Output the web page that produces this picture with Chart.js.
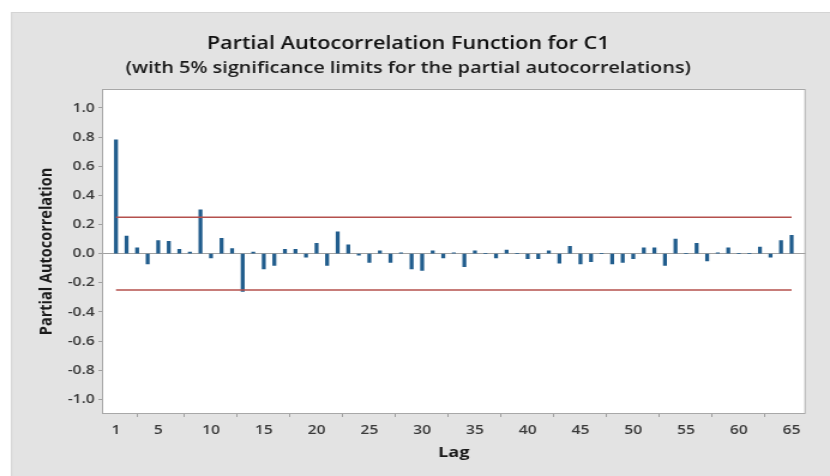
<!DOCTYPE html>
<html>
<head>
<meta charset="utf-8">
<script src="https://cdn.jsdelivr.net/npm/chart.js@4.4.1/dist/chart.umd.min.js"></script>
<style>
  html, body { margin: 0; padding: 0; background: #ffffff; overflow: hidden; }
  #wrap { width: 830px; height: 476px; position: relative; overflow: hidden; }
  /* the reference picture is horizontally stretched; reproduce that stretch */
  #c { position: absolute; left: 0; top: 0; transform-origin: 0 0; transform: scaleX(1.19942); }
</style>
</head>
<body>
<div id="wrap"><canvas id="c" width="692" height="476"></canvas></div>
<script>
// ---- Data ----
const lags = [1,2,3,4,5,6,7,8,9,10,11,12,13,14,15,16,17,18,19,20,21,22,23,24,25,26,27,28,29,30,31,32,33,34,35,36,37,38,39,40,41,42,43,44,45,46,47,48,49,50,51,52,53,54,55,56,57,58,59,60,61,62,63,64,65];
const pacf = [0.78,0.12,0.04,-0.07,0.09,0.085,0.03,0.01,0.30,-0.03,
              0.105,0.035,-0.26,0.01,-0.105,-0.08,0.03,0.03,-0.025,0.07,
              -0.08,0.15,0.06,-0.01,-0.06,0.02,-0.06,0.005,-0.105,-0.115,
              0.02,-0.03,0.005,-0.09,0.02,0.0,-0.03,0.025,0.0,-0.035,
              -0.035,0.02,-0.065,0.05,-0.07,-0.055,0.0,-0.07,-0.06,-0.035,
              0.04,0.04,-0.08,0.10,0.0,0.07,-0.05,0.005,0.04,0.0,
              0.0,0.045,-0.025,0.09,0.125];
const limitLags = [1, 65];
const upperLimit = [0.25, 0.25];
const lowerLimit = [-0.25, -0.25];
const xTickValues = [1,5,10,15,20,25,30,35,40,45,50,55,60,65];
const yTickValues = [-1.0,-0.8,-0.6,-0.4,-0.2,0.0,0.2,0.4,0.6,0.8,1.0];
const titleText = 'Partial Autocorrelation Function for C1';
const subtitleText = '(with 5% significance limits for the partial autocorrelations)';
const yTitle = 'Partial Autocorrelation';
const xTitle = 'Lag';

const FONT = "'Open Sans', 'Noto Sans', sans-serif";

const panelPlugin = {
  id: 'panel',
  beforeDraw(chart) {
    const ctx = chart.ctx;
    const a = chart.chartArea;
    ctx.save();
    ctx.fillStyle = '#ffffff';
    ctx.fillRect(0, 0, chart.width, chart.height);
    ctx.fillStyle = '#e3e3e3';
    ctx.fillRect(9.2, 12, chart.width - 9.2, chart.height - 12);
    ctx.strokeStyle = '#d4d4d4';
    ctx.lineWidth = 1;
    ctx.strokeRect(9.7, 12.5, chart.width - 9.2, chart.height - 12);
    ctx.fillStyle = '#ffffff';
    ctx.fillRect(a.left, a.top, a.right - a.left, a.bottom - a.top);
    ctx.restore();
  },
  afterDraw(chart) {
    const ctx = chart.ctx;
    const a = chart.chartArea;
    ctx.save();
    ctx.strokeStyle = '#a8a8a8';
    ctx.lineWidth = 1;
    ctx.strokeRect(a.left + 0.5, Math.round(a.top) + 0.5,
                   a.right - a.left - 1, Math.round(a.bottom - a.top) - 1);
    ctx.restore();
  }
};

new Chart(document.getElementById('c'), {
  type: 'bar',
  data: {
    datasets: [
      {
        type: 'bar',
        label: 'PACF',
        data: lags.map((l, i) => ({ x: l, y: pacf[i] })),
        backgroundColor: '#215d8d',
        borderWidth: 0,
        barThickness: 2.6,
        grouped: false,
        order: 2
      },
      {
        type: 'line',
        label: 'Upper limit',
        data: limitLags.map((l, i) => ({ x: l, y: upperLimit[i] })),
        borderColor: '#b4504c',
        borderWidth: 1.5,
        pointRadius: 0,
        fill: false,
        order: 1
      },
      {
        type: 'line',
        label: 'Lower limit',
        data: limitLags.map((l, i) => ({ x: l, y: lowerLimit[i] })),
        borderColor: '#b4504c',
        borderWidth: 1.5,
        pointRadius: 0,
        fill: false,
        order: 1
      }
    ]
  },
  options: {
    responsive: false,
    animation: false,
    devicePixelRatio: 1,
    layout: { padding: { left: 9, right: 20.3, top: 12, bottom: 0 } },
    plugins: {
      legend: { display: false },
      tooltip: { enabled: false },
      title: {
        display: true,
        text: titleText,
        color: '#111111',
        font: { family: FONT, size: 18, weight: '600' },
        padding: { top: 21, bottom: 1 }
      },
      subtitle: {
        display: true,
        text: subtitleText,
        color: '#1a1a1a',
        font: { family: FONT, size: 16.5, weight: '600' },
        padding: { top: 2.5, bottom: 11 }
      }
    },
    scales: {
      x: {
        type: 'linear',
        min: -0.33,
        max: 66.33,
        offset: false,
        afterFit(scale) { scale.height = 62; },
        afterBuildTicks(scale) { scale.ticks = xTickValues.map(v => ({ value: v })); },
        ticks: {
          color: '#3a3a3a',
          font: { family: FONT, size: 13, weight: '600' },
          padding: 5,
          autoSkip: false,
          maxRotation: 0,
          callback: v => String(v)
        },
        grid: {
          display: true,
          drawOnChartArea: false,
          drawTicks: true,
          tickLength: 3,
          tickColor: '#a0a0a0'
        },
        border: { display: false },
        title: {
          display: true,
          text: xTitle,
          color: '#1a1a1a',
          font: { family: FONT, size: 15, weight: '700' },
          padding: { top: 0, bottom: 14.3 }
        }
      },
      y: {
        type: 'linear',
        min: -1.10,
        max: 1.13,
        afterFit(scale) { scale.width = 76; },
        afterBuildTicks(scale) { scale.ticks = yTickValues.map(v => ({ value: v })); },
        ticks: {
          color: '#3a3a3a',
          font: { family: FONT, size: 13, weight: '600' },
          padding: 3,
          autoSkip: false,
          callback: v => Number(v).toFixed(1)
        },
        grid: {
          display: true,
          drawOnChartArea: true,
          drawTicks: true,
          tickLength: 3,
          tickColor: '#a0a0a0',
          lineWidth: 1,
          color: ctx => (ctx.tick && Math.abs(ctx.tick.value) < 1e-9) ? '#a0a0a0' : 'rgba(0,0,0,0)'
        },
        border: { display: false },
        title: {
          display: true,
          text: yTitle,
          color: '#1a1a1a',
          font: { family: FONT, size: 14.5, weight: '700' },
          padding: { top: 21, bottom: 0 }
        }
      }
    }
  },
  plugins: [panelPlugin]
});
</script>
</body>
</html>
